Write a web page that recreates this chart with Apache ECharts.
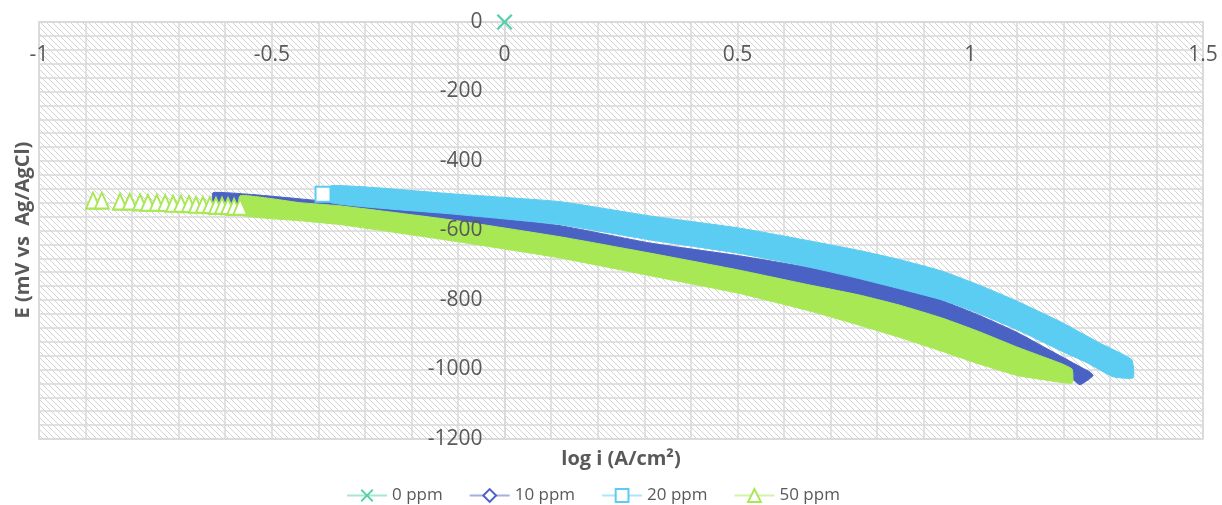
<!DOCTYPE html>
<html>
<head>
<meta charset="utf-8">
<script src="https://cdn.jsdelivr.net/npm/echarts@6/dist/echarts.min.js"></script>
<style>
  html, body { margin: 0; padding: 0; background: #fff; }
  #chart { width: 1222px; height: 505px; }
</style>
</head>
<body>
<div id="chart"></div>
<script>
// Polarisation curves: E (mV vs Ag/AgCl) against log i, one series per inhibitor dose.
const seriesNames = ['0 ppm', '10 ppm', '20 ppm', '50 ppm'];
const seriesColors = ['#52cfa8', '#4b62c5', '#5bcdf2', '#a9e855'];

const xTicks = { min: -1, max: 1.5, step: 0.5 };
const yTicks = { min: -1200, max: 0, step: 200 };

// 0 ppm: single recorded point
const points0 = [[0, 0]];

// 20 ppm: first (isolated) point of the scan
const points20 = [[-0.390, -496]];

// 50 ppm: sparse points at the low-current end of the scan
const points50 = [
  [-0.884, -514], [-0.865, -514], [-0.826, -517], [-0.805, -517], [-0.783, -519],
  [-0.766, -520], [-0.747, -520], [-0.729, -521], [-0.712, -523], [-0.695, -523],
  [-0.678, -524], [-0.663, -526], [-0.648, -526], [-0.633, -527], [-0.620, -529],
  [-0.607, -529], [-0.594, -530], [-0.581, -532], [-0.568, -532]
];

// Dense parts of each scan: upper edge (left to right) and lower edge (right to left)
const band10Upper = [
  [-0.626, -491], [-0.547, -496], [-0.439, -509], [-0.354, -520], [-0.117, -549],
  [0.119, -586], [0.312, -636], [0.500, -672], [0.656, -707], [0.760, -735],
  [0.849, -765], [0.940, -802], [1.021, -845], [1.100, -893], [1.199, -965],
  [1.240, -995], [1.257, -1007], [1.264, -1018], [1.236, -1044]
];
const band10Lower = [
  [1.221, -1029], [1.204, -987], [1.170, -970], [1.128, -955], [1.021, -918],
  [0.940, -880], [0.849, -843], [0.760, -805], [0.656, -765], [0.500, -722],
  [0.312, -679], [0.119, -627], [-0.117, -575], [-0.354, -546],
  [-0.439, -540], [-0.547, -532], [-0.626, -520]
];

const band20Upper = [
  [-0.373, -471], [-0.117, -494], [0.119, -517], [0.312, -558], [0.500, -592],
  [0.656, -630], [0.760, -657], [0.849, -684], [0.940, -717], [1.021, -758],
  [1.100, -803], [1.193, -862], [1.280, -925], [1.347, -972], [1.350, -1024]
];
const band20Lower = [
  [1.307, -1021], [1.250, -980], [1.193, -945], [1.100, -885], [1.021, -840],
  [0.940, -800], [0.849, -768], [0.760, -738], [0.656, -706], [0.500, -665],
  [0.312, -627], [0.119, -583], [-0.117, -552], [-0.373, -520]
];

const band50Upper = [
  [-0.568, -500], [-0.439, -520], [-0.354, -529], [-0.117, -569], [0.119, -618],
  [0.312, -665], [0.500, -713], [0.656, -757], [0.760, -785], [0.849, -815],
  [0.940, -852], [1.021, -892], [1.100, -935], [1.160, -965], [1.199, -985],
  [1.219, -999], [1.219, -1039]
];
const band50Lower = [
  [1.160, -1030], [1.100, -1017], [1.021, -985], [0.940, -948], [0.849, -908],
  [0.760, -872], [0.656, -832], [0.500, -780], [0.312, -730],
  [0.119, -679], [-0.117, -629], [-0.354, -583], [-0.439, -572], [-0.568, -555]
];

const textColor = '#595959';
const gridColor = '#d9d9d9';
const fontFamily = '"Open Sans", "Noto Sans", sans-serif';

const gridBox = { left: 39, right: 19, top: 22, bottom: 66 };

// light diagonal hatch used as the plot-area fill
function hatchTile() {
  const size = 6;
  const cv = document.createElement('canvas');
  cv.width = size; cv.height = size;
  const c = cv.getContext('2d');
  c.fillStyle = '#ffffff';
  c.fillRect(0, 0, size, size);
  c.strokeStyle = '#d4d4d4';
  c.lineWidth = 1;
  for (let k = -1; k <= 1; k++) {
    c.beginPath();
    c.moveTo(k * size - 1, -1);
    c.lineTo(k * size + size + 1, size + 1);
    c.stroke();
  }
  return cv;
}

const crossPath = 'path://M2,0 L10,8 L18,0 L20,2 L12,10 L20,18 L18,20 L10,12 L2,20 L0,18 L8,10 L0,2 Z';

function markerSeries(name, data, symbol, size, color, z, filled) {
  return {
    type: 'line',
    name: name,
    data: data,
    symbol: symbol,
    symbolSize: size,
    showAllSymbol: true,
    lineStyle: { width: 0, color: color },
    itemStyle: filled
      ? { color: color, borderWidth: 0 }
      : { color: color, borderColor: color, borderWidth: 3 },
    z: z,
    animation: false
  };
}

function bandSeries(name, upper, lower, color, z) {
  const outline = upper.concat(lower);
  return {
    type: 'custom',
    name: name,
    data: outline,
    encode: { x: 0, y: 1 },
    z: z,
    animation: false,
    renderItem: function (params, api) {
      if (params.dataIndex !== 0) return null;
      const pts = outline.map(function (p) { return api.coord(p); });
      return {
        type: 'polygon',
        shape: { points: pts, smooth: 0.15 },
        style: { fill: color, stroke: color, lineWidth: 1 }
      };
    }
  };
}

const chartWidth = 1222;
const chartEl = document.getElementById('chart');
const chart = echarts.init(chartEl, null, { renderer: 'canvas' });

// The vertical axis crosses the horizontal one at log i = 0
const plotWidth = chartWidth - gridBox.left - gridBox.right;
const yAxisShift = plotWidth * (0 - xTicks.min) / (xTicks.max - xTicks.min);

const gridLineStyle = { color: gridColor, width: 1.5 };
const plainNumber = function (v) { return String(v); };

chart.setOption({
  backgroundColor: '#ffffff',
  animation: false,
  textStyle: { fontFamily: fontFamily },
  grid: {
    left: gridBox.left, right: gridBox.right, top: gridBox.top, bottom: gridBox.bottom,
    containLabel: false,
    outerBoundsMode: 'none',
    show: true,
    borderColor: gridColor,
    borderWidth: 1.5,
    backgroundColor: { image: hatchTile(), repeat: 'repeat' }
  },
  xAxis: {
    type: 'value',
    min: xTicks.min, max: xTicks.max, interval: xTicks.step,
    position: 'top',
    axisLine: { show: true, onZero: false, lineStyle: gridLineStyle },
    axisTick: { show: false },
    axisLabel: {
      inside: true, color: textColor, fontSize: 21, margin: 23, fontFamily: fontFamily,
      formatter: plainNumber
    },
    splitLine: { show: true, lineStyle: gridLineStyle },
    minorTick: { show: false, splitNumber: 5 },
    minorSplitLine: { show: true, lineStyle: gridLineStyle }
  },
  yAxis: [
    {
      // gridlines and axis line, beneath the curves
      type: 'value',
      min: yTicks.min, max: yTicks.max, interval: yTicks.step,
      position: 'left',
      offset: -yAxisShift,
      axisLine: { show: true, onZero: false, lineStyle: gridLineStyle },
      axisTick: { show: false },
      axisLabel: { show: false },
      splitLine: { show: true, lineStyle: gridLineStyle },
      minorTick: { show: false, splitNumber: 5 },
      minorSplitLine: { show: true, lineStyle: gridLineStyle }
    },
    {
      // tick labels, drawn above the curves
      type: 'value',
      min: yTicks.min, max: yTicks.max, interval: yTicks.step,
      position: 'left',
      offset: -yAxisShift,
      z: 20,
      axisLine: { show: false, onZero: false },
      axisTick: { show: false },
      axisLabel: {
        color: textColor, fontSize: 21, margin: 22, fontFamily: fontFamily,
        formatter: plainNumber
      },
      splitLine: { show: false },
      minorSplitLine: { show: false }
    }
  ],
  legend: {
    data: seriesNames,
    left: 341,
    top: 482,
    itemWidth: 40,
    itemHeight: 16,
    itemGap: 26,
    textStyle: { color: textColor, fontSize: 17, fontFamily: fontFamily },
    lineStyle: { width: 2, opacity: 0.5 }
  },
  graphic: [
    {
      type: 'text',
      x: 621, y: 459,
      style: {
        text: 'log i (A/cm²)',
        fill: textColor,
        font: 'bold 20px ' + fontFamily,
        align: 'center', verticalAlign: 'middle'
      }
    },
    {
      type: 'text',
      x: 23, y: 230,
      rotation: Math.PI / 2,
      style: {
        text: 'E (mV vs  Ag/AgCl)',
        fill: textColor,
        font: 'bold 20px ' + fontFamily,
        align: 'center', verticalAlign: 'middle'
      }
    }
  ],
  series: [
    markerSeries(seriesNames[0], points0, crossPath, 16, seriesColors[0], 10, true),
    markerSeries(seriesNames[1], [], 'emptyDiamond', 12, seriesColors[1], 3, false),
    markerSeries(seriesNames[2], points20, 'emptyRect', 15, seriesColors[2], 5, false),
    markerSeries(seriesNames[3], points50, 'emptyTriangle', [14, 16], seriesColors[3], 7, false),
    bandSeries(seriesNames[1], band10Upper, band10Lower, seriesColors[1], 3),
    bandSeries(seriesNames[2], band20Upper, band20Lower, seriesColors[2], 5),
    bandSeries(seriesNames[3], band50Upper, band50Lower, seriesColors[3], 7)
  ]
});
</script>
</body>
</html>
